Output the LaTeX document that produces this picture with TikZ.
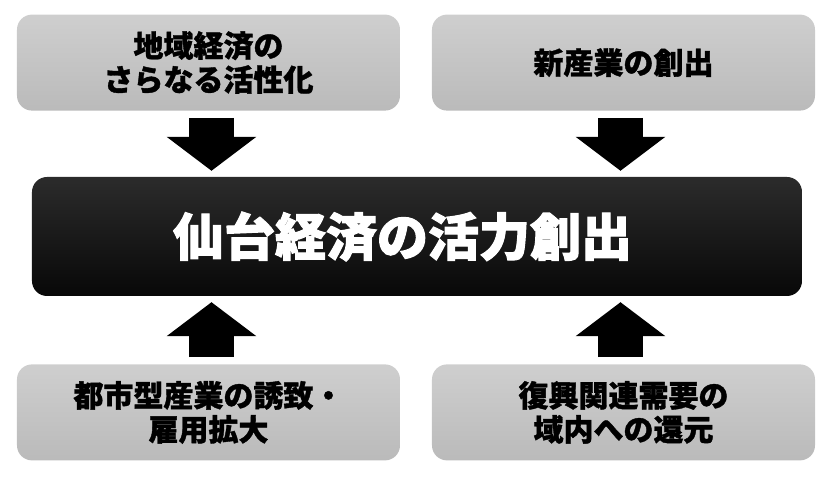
\documentclass[tikz,border=0pt]{standalone}
\usepackage{fontspec}
\newfontfamily\jpfont{Noto Sans CJK JP}[BoldFeatures={FakeBold=1.2}]
\newfontfamily\jpheavy{Noto Sans CJK JP}[BoldFeatures={FakeBold=2}]
\usepackage{tikz}
\usetikzlibrary{arrows.meta, positioning}

\begin{document}
\begin{tikzpicture}[x=1pt, y=1pt,
    cause/.style={rectangle, rounded corners=15pt, top color=black!19, bottom color=black!27,
        minimum width=383pt, minimum height=96pt, text width=370pt, align=center,
        font=\jpfont\bfseries\fontsize{30}{34}\selectfont, inner sep=0pt},
    core/.style={rectangle, rounded corners=15pt, top color=black!83, bottom color=black!97,
        minimum width=770pt, minimum height=119pt, text=white,
        font=\jpheavy\bfseries\fontsize{51}{55}\selectfont, inner sep=0pt},
    push/.style={line width=45pt, -{Triangle[width=88pt, length=34pt]}, shorten <=7pt, shorten >=6pt}]

    \useasboundingbox (-417,236.5) rectangle (413,-244.5);

    \node [core] (core) at (0,0) {\hspace*{-29pt}仙台経済の活力創出};
    \node [cause, above=66pt of core.north, xshift=-208.5pt] (region) {地域経済の\\さらなる活性化};
    \node [cause, above=66pt of core.north, xshift=206.5pt] (industry) {新産業の創出};
    \node [cause, below=68pt of core.south, xshift=-208.5pt] (jobs) {都市型産業の誘致・\\雇用拡大};
    \node [cause, below=68pt of core.south, xshift=206.5pt] (demand) {復興関連需要の\\域内への還元};

    \draw [push] ([xshift=3pt]region.south) -- ([xshift=3pt]region.south |- core.north);
    \draw [push] ([xshift=-3pt]industry.south) -- ([xshift=-3pt]industry.south |- core.north);
    \draw [push] ([xshift=3pt]jobs.north) -- ([xshift=3pt]jobs.north |- core.south);
    \draw [push] ([xshift=-3pt]demand.north) -- ([xshift=-3pt]demand.north |- core.south);

\end{tikzpicture}
\end{document}
